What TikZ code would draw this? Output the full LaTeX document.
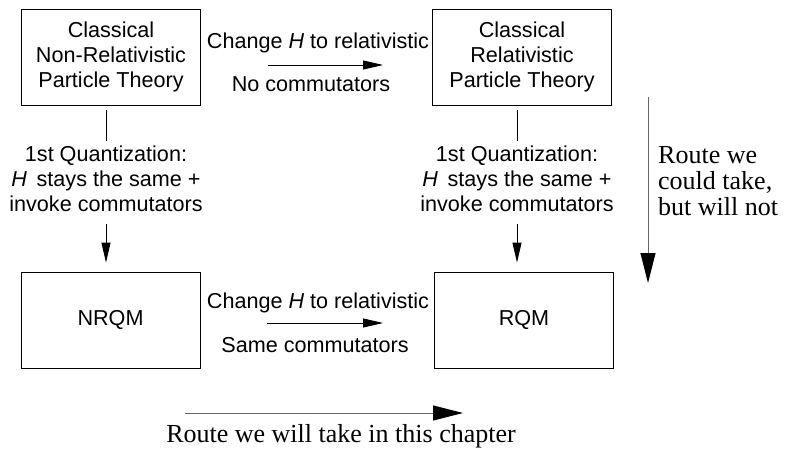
\documentclass[tikz,border=0pt]{standalone}
\usepackage{fontspec}
\setmainfont{Liberation Serif}
\setsansfont{Liberation Sans}
\usetikzlibrary{positioning,arrows.meta}

\begin{document}
\begin{tikzpicture}[x=1pt, y=-1pt,
  box/.style={draw, shape = rectangle, line width=0.9pt, minimum width=179pt, minimum height=96pt, align=center, font = \sffamily\fontsize{21.6}{25}\selectfont},
  lbl/.style={inner sep=0pt, align=center, font = \sffamily\fontsize{21.6}{25}\selectfont},
  note/.style={inner sep=0pt, align=left, font = \rmfamily\fontsize{26}{26}\selectfont},
  thin arrow/.style={line width=0.9pt, -{Triangle[length=20pt, width=9pt]}},
  big arrow/.style={line width=1pt, black!60, -{Triangle[length=30pt, width=15pt, color=black]}}]
\useasboundingbox (0,0) rectangle (793,452);
\node[box] (1) at (111,57) {Classical\\Non-Relativistic\\Particle Theory};
\node[box] (2) at (522,57) {Classical\\Relativistic\\Particle Theory};
\node[box] (3) at (110.5,320) {NRQM};
\node[box] (4) at (524,320) {RQM};
\node[lbl] (5) at (106,179) {1st Quantization:\\\textit{H}\, stays the same +\\invoke commutators};
\node[lbl] (6) at (517,179) {1st Quantization:\\\textit{H}\, stays the same +\\invoke commutators};
\node[lbl] (7) at (318,43) {Change \textit{H} to relativistic};
\node[lbl] (8) at (311,84) {No commutators};
\node[lbl] (9) at (318,303) {Change \textit{H} to relativistic};
\node[lbl] (10) at (315,345) {Same commutators};
\coordinate (11) at (648,97);
\coordinate (12) at (648,283);
\node[note, anchor=west] (13) at (658,181) {Route we\\could take,\\but will not};
\coordinate (14) at (185,413);
\coordinate (15) at (463,413);
\node[note] (16) at (341,436) {Route we will take in this chapter};
% quantization steps
\draw[line width=0.9pt] ([yshift=-5pt]1.south -| 5.north) -- ([yshift=5pt]5.north);
\draw[thin arrow] ([yshift=-12pt]5.south) -- ([yshift=9pt]3.north -| 5.south);
\draw[line width=0.9pt] ([yshift=-5pt]2.south -| 6.north) -- ([yshift=5pt]6.north);
\draw[thin arrow] ([yshift=-12pt]6.south) -- ([yshift=9pt]4.north -| 6.south);
% change of H
\draw[thin arrow, shorten <=67pt, shorten >=49pt] ([yshift=-8pt]1.east) -- ([yshift=-8pt]2.west);
\draw[thin arrow, shorten <=67pt, shorten >=51pt] ([yshift=-3pt]3.east) -- ([yshift=-3pt]4.west);
% routes
\draw[big arrow] (11) -- (12);
\draw[big arrow] (14) -- (15);
\end{tikzpicture}
\end{document}
